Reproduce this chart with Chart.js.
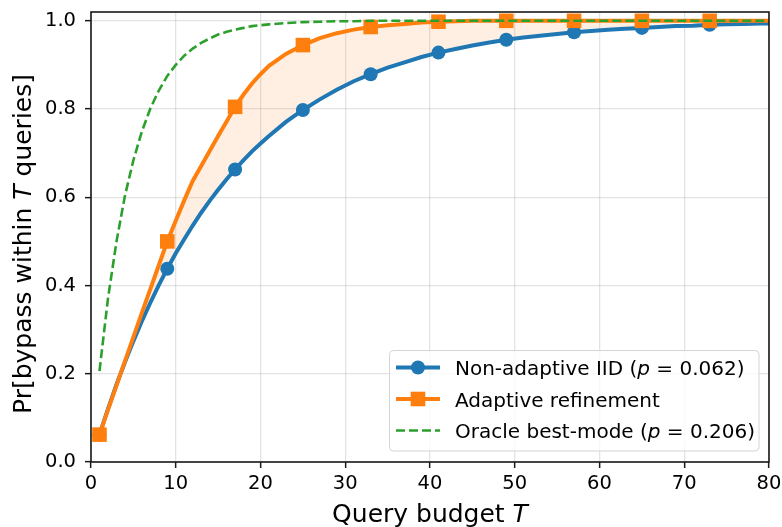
<!DOCTYPE html>
<html><head><meta charset="utf-8">
<script src="https://cdn.jsdelivr.net/npm/chart.js@4"></script>
<style>html,body{margin:0;padding:0;background:#fff}#c{display:block}</style>
</head><body>
<canvas id="c" width="782" height="527"></canvas>
<script>
// ---- data ----
const budgets = [1,2,3,4,5,6,7,8,9,10,11,12,13,14,15,16,17,18,19,20,
  21,23,25,27,29,31,33,35,37,39,41,43,45,47,49,51,53,55,57,59,61,63,65,67,69,71,73,75,77,79,80];
const nonAdaptive = [0.062,0.120,0.175,0.226,0.274,0.319,0.361,0.401,0.438,0.473,0.505,0.536,0.565,0.592,0.617,0.641,0.663,0.684,0.704,0.722,
  0.739,0.771,0.798,0.822,0.844,0.863,0.879,0.894,0.906,0.918,0.928,0.936,0.944,0.951,0.957,0.962,0.966,0.970,0.974,0.977,0.980,0.982,0.984,0.986,0.988,0.989,0.991,0.992,0.993,0.994,0.994];
const adaptive = [0.062,0.118,0.173,0.228,0.283,0.338,0.392,0.446,0.500,0.547,0.593,0.637,0.671,0.705,0.739,0.772,0.805,0.833,0.858,0.879,
  0.898,0.925,0.945,0.961,0.972,0.980,0.986,0.990,0.993,0.996,0.998,0.999,1.000,1.000,1.000,1.000,1.000,1.000,1.000,1.000,1.000,1.000,1.000,1.000,1.000,1.000,1.000,1.000,1.000,1.000,1.000];
const oracle = [0.206,0.370,0.499,0.603,0.684,0.749,0.801,0.842,0.875,0.900,0.921,0.937,0.950,0.960,0.969,0.975,0.980,0.984,0.988,0.990,
  0.992,0.995,0.997,0.998,0.999,0.999,1.000,1.000,1.000,1.000,1.000,1.000,1.000,1.000,1.000,1.000,1.000,1.000,1.000,1.000,1.000,1.000,1.000,1.000,1.000,1.000,1.000,1.000,1.000,1.000,1.000];
const markerBudgets = [1,9,17,25,33,41,49,57,65,73];
const xTicks = [0,10,20,30,40,50,60,70,80];
const yTicks = [0.0,0.2,0.4,0.6,0.8,1.0];
const legendRows = [
  [["Non-adaptive IID (",false],["p",true],[" = 0.062)",false]],
  [["Adaptive refinement",false]],
  [["Oracle best-mode (",false],["p",true],[" = 0.206)",false]]
];
const xTitle = [["Query budget ",false],["T",true]];
const yTitle = [["Pr[bypass within ",false],["T",true],[" queries]",false]];

const BLUE = '#1f77b4', ORANGE = '#ff7f0e', GREEN = '#2ca02c';
const FONT = '"DejaVu Sans", sans-serif';
const pts = arr => budgets.map((t,i)=>({x:t,y:arr[i]}));
const isMarker = ctx => ctx.raw && markerBudgets.includes(ctx.raw.x);

function segWidth(ctx, segs, size){
  let w=0;
  for(const [t,it] of segs){ ctx.font=(it?'oblique ':'')+size+'px '+FONT; w+=ctx.measureText(t).width; }
  return w;
}
function drawSegs(ctx, segs, x, y, size){
  for(const [t,it] of segs){ ctx.font=(it?'oblique ':'')+size+'px '+FONT; ctx.fillText(t,x,y); x+=ctx.measureText(t).width; }
}

const decor = {
  id:'decor',
  afterDraw(chart){
    const ctx=chart.ctx, a=chart.chartArea;
    ctx.save();
    ctx.strokeStyle='#1a1a1a'; ctx.lineWidth=1.6;
    ctx.strokeRect(a.left, a.top, a.right-a.left, a.bottom-a.top);
    ctx.fillStyle='#000'; ctx.textBaseline='alphabetic'; ctx.textAlign='left';
    const TS=25;
    let w=segWidth(ctx,xTitle,TS);
    drawSegs(ctx,xTitle,(a.left+a.right)/2-w/2,522,TS);
    ctx.save();
    ctx.translate(31,244);
    ctx.rotate(-Math.PI/2);
    w=segWidth(ctx,yTitle,TS);
    drawSegs(ctx,yTitle,-w/2,0,TS);
    ctx.restore();
    const bx=389.5, by=350.5, bw=369.5, bh=100.5, r=4;
    ctx.beginPath();
    ctx.moveTo(bx+r,by); ctx.lineTo(bx+bw-r,by); ctx.quadraticCurveTo(bx+bw,by,bx+bw,by+r);
    ctx.lineTo(bx+bw,by+bh-r); ctx.quadraticCurveTo(bx+bw,by+bh,bx+bw-r,by+bh);
    ctx.lineTo(bx+r,by+bh); ctx.quadraticCurveTo(bx,by+bh,bx,by+bh-r);
    ctx.lineTo(bx,by+r); ctx.quadraticCurveTo(bx,by,bx+r,by); ctx.closePath();
    ctx.fillStyle='rgba(255,255,255,0.8)'; ctx.fill();
    ctx.strokeStyle='#d4d4d4'; ctx.lineWidth=1; ctx.stroke();
    const hy=[367.5,399,430.5], ty=[375,406.5,438];
    const hx0=396, hx1=440, hm=418;
    ctx.strokeStyle=BLUE; ctx.lineWidth=4; ctx.setLineDash([]);
    ctx.beginPath(); ctx.moveTo(hx0,hy[0]); ctx.lineTo(hx1,hy[0]); ctx.stroke();
    ctx.fillStyle=BLUE; ctx.beginPath(); ctx.arc(hm,hy[0],7,0,Math.PI*2); ctx.fill();
    ctx.strokeStyle=ORANGE;
    ctx.beginPath(); ctx.moveTo(hx0,hy[1]); ctx.lineTo(hx1,hy[1]); ctx.stroke();
    ctx.fillStyle=ORANGE; ctx.fillRect(hm-7.3,hy[1]-7.3,14.6,14.6);
    ctx.strokeStyle=GREEN; ctx.lineWidth=2.6; ctx.setLineDash([9,4]);
    ctx.beginPath(); ctx.moveTo(hx0,hy[2]); ctx.lineTo(hx1,hy[2]); ctx.stroke();
    ctx.setLineDash([]);
    ctx.fillStyle='#000';
    legendRows.forEach((segs,i)=>drawSegs(ctx,segs,455,ty[i],20));
    ctx.restore();
  }
};

new Chart(document.getElementById('c'), {
  type:'line',
  data:{datasets:[
    {label:'Non-adaptive IID', data:pts(nonAdaptive), borderColor:BLUE, backgroundColor:BLUE,
     borderWidth:4, pointRadius:ctx=>isMarker(ctx)?7:0, pointBorderWidth:0, pointStyle:'circle',
     pointBackgroundColor:BLUE, tension:0, fill:false, order:3},
    {label:'Adaptive refinement', data:pts(adaptive), borderColor:ORANGE, backgroundColor:'rgba(255,127,14,0.12)',
     borderWidth:4, pointRadius:ctx=>isMarker(ctx)?10.3:0, pointBorderWidth:0, pointStyle:'rect',
     pointBackgroundColor:ORANGE, tension:0, fill:{target:0}, order:2},
    {label:'Oracle best-mode', data:pts(oracle), borderColor:GREEN, borderWidth:2.6, borderDash:[9,4],
     pointRadius:0, tension:0, fill:false, order:1}
  ]},
  options:{
    responsive:false, animation:false, devicePixelRatio:1,
    events:[],
    layout:{padding:{left:0,right:13,top:12,bottom:0}},
    plugins:{legend:{display:false}, tooltip:{enabled:false}, filler:{drawTime:'beforeDatasetsDraw'}},
    scales:{
      x:{type:'linear', min:0, max:80,
         afterBuildTicks:s=>{s.ticks=xTicks.map(v=>({value:v}));},
         afterFit:s=>{s.height=65; s.paddingLeft=0; s.paddingRight=0;},
         grid:{color:'rgba(176,176,176,0.35)', lineWidth:1.3, tickLength:6, tickColor:'#1a1a1a', tickWidth:1.5},
         border:{display:false},
         ticks:{padding:4, color:'#000', font:{family:FONT,size:19.5}, maxRotation:0, autoSkip:false, callback:v=>String(v)}},
      y:{type:'linear', min:0, max:1.02,
         afterBuildTicks:s=>{s.ticks=yTicks.map(v=>({value:v}));},
         afterFit:s=>{s.width=91; s.paddingTop=0; s.paddingBottom=0;},
         grid:{color:'rgba(176,176,176,0.35)', lineWidth:1.3, tickLength:6, tickColor:'#1a1a1a', tickWidth:1.5},
         border:{display:false},
         ticks:{padding:9, color:'#000', font:{family:FONT,size:19.5}, autoSkip:false, callback:v=>v.toFixed(1)}}
    }
  },
  plugins:[decor]
});
</script>
</body></html>
